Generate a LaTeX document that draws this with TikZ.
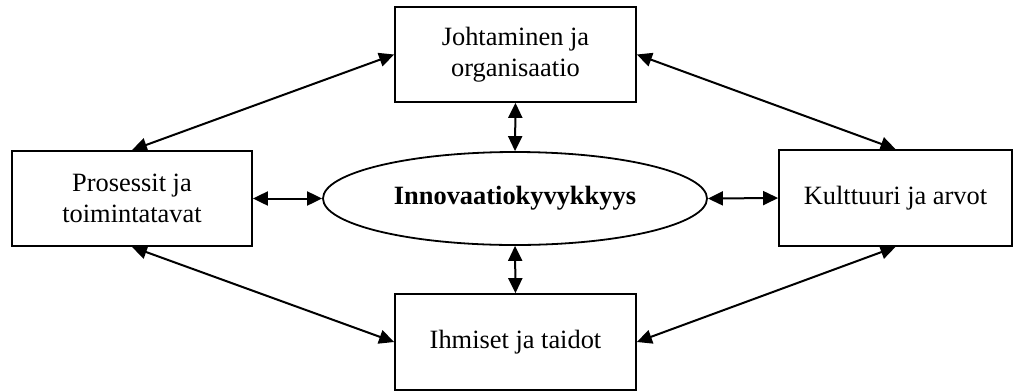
\documentclass[tikz,border=0pt]{standalone}
\usepackage{fontspec}
\setmainfont{Liberation Serif}
\usetikzlibrary{shapes.geometric,arrows.meta}
\begin{document}
\begin{tikzpicture}[x=1bp,y=-1bp,
  box/.style={draw,line width=1.8bp,minimum width=241bp,minimum height=95bp,
    inner sep=2bp,align=center,font=\rmfamily\fontsize{26.5}{31.5}\selectfont},
  hub/.style={draw,ellipse,line width=1.8bp,minimum width=384bp,minimum height=93bp,
    inner sep=0pt,font=\rmfamily\fontsize{26.5}{31.5}\selectfont\bfseries},
  link/.style={line width=2bp,{Triangle[length=15bp,width=14bp]}-{Triangle[length=15bp,width=14bp]}}]
\useasboundingbox (0,0) rectangle (1015,391);
\node[box] (top) at (515.5,54.5) {Johtaminen ja\\organisaatio};
\node[box,minimum width=240bp] (left) at (132,198.5) {Prosessit ja\\toimintatavat};
\node[box,minimum width=233bp,minimum height=96bp] (right) at (895.5,198) {Kulttuuri ja arvot};
\node[box,minimum height=96bp] (bottom) at (515.5,342) {Ihmiset ja taidot};
\node[hub] (hub) at (515,198.5) {Innovaatiokyvykkyys};
\draw[link] (top.west) -- (left.north);
\draw[link] (top.east) -- (right.north);
\draw[link] (left.south) -- (bottom.west);
\draw[link] (right.south) -- (bottom.east);
\draw[link] (top.south) -- (hub.north);
\draw[link] (hub.south) -- (bottom.north);
\draw[link] (left.east) -- (hub.west);
\draw[link] (hub.east) -- (right.west);
\end{tikzpicture}
\end{document}
